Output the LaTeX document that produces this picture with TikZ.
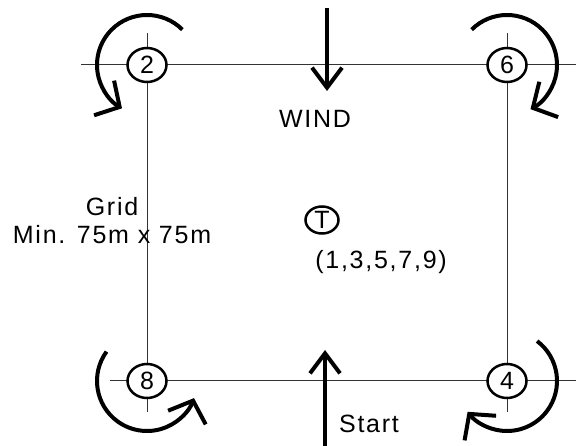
\documentclass[tikz,border=0pt]{standalone}
\usepackage{fontspec}
\setmainfont{Liberation Sans}[LetterSpace=7]
\usetikzlibrary{arrows.meta,shapes.geometric}

\begin{document}
\begin{tikzpicture}[x=1pt,y=-1pt,
    every node/.style={font=\fontsize{25}{28}\selectfont},
    pylon/.style={ellipse,draw,line width=2.5pt,fill=white,inner sep=0pt,
        minimum width=39pt,minimum height=34pt},
    gridline/.style={line width=1pt,black!80},
    windarrow/.style={line width=4pt,-{Straight Barb[length=20pt,width=30pt]}},
    turnarrow/.style={line width=4pt,-{Straight Barb[length=18pt,width=40pt]}}]
    \useasboundingbox (0,0) rectangle (576,446);
    % grid
    \coordinate (topL) at (81,65);
    \coordinate (topR) at (576,65);
    \coordinate (botL) at (110,381);
    \coordinate (botR) at (576,381);
    \coordinate (leftT) at (147,33);
    \coordinate (leftB) at (147,412);
    \coordinate (rightT) at (507,33);
    \coordinate (rightB) at (507,412);
    \draw[gridline] (topL) -- (topR);
    \draw[gridline] (botL) -- (botR);
    \draw[gridline] (leftT) -- (leftB);
    \draw[gridline] (rightT) -- (rightB);
    % corners
    \node[pylon] (p2) at (147,65) {2};
    \node[pylon] (p6) at (507,65) {6};
    \node[pylon] (p8) at (147,381) {8};
    \node[pylon] (p4) at (507,381) {4};
    \draw[turnarrow] (p2.center) ++(-45:50) arc[start angle=-45,end angle=-240,radius=50];
    \draw[turnarrow] (p6.center) ++(-135:50) arc[start angle=-135,end angle=62,radius=50];
    \draw[turnarrow] (p8.center) ++(-144:50) arc[start angle=-144,end angle=-340,radius=50];
    \draw[turnarrow] (p4.center) ++(-53:50) arc[start angle=-53,end angle=142,radius=50];
    % middle
    \node[pylon,minimum width=33pt,minimum height=27pt] (tee) at (322,220) {T};
    \node (heats) at (381,262) {(1,3,5,7,9)};
    \node[align=center] (grid) at (112,221) {Grid\\Min. 75m x 75m};
    % wind and start
    \coordinate (windtail) at (327,8);
    \coordinate (windtip) at (327,91);
    \draw[windarrow] (windtail) -- (windtip);
    \node (wind) at (315,119) {WIND};
    \coordinate (starttail) at (325,446);
    \coordinate (starttip) at (325,350);
    \draw[windarrow] (starttail) -- (starttip);
    \node (start) at (369,424) {Start};
\end{tikzpicture}
\end{document}
